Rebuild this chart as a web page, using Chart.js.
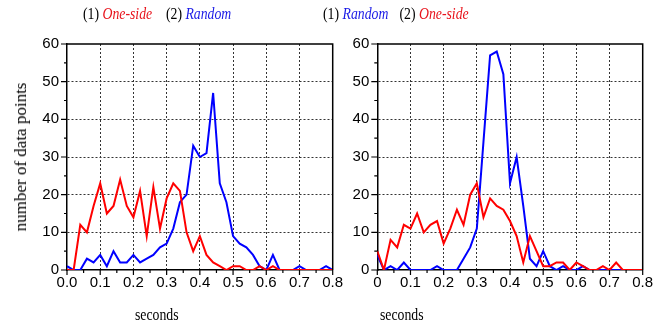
<!DOCTYPE html>
<html lang="en">
<head>
<meta charset="UTF-8">
<title>One-side vs Random</title>
<style>
  body { margin: 0; background: #fff; }
  #wrap { position: relative; width: 664px; height: 325px; overflow: hidden; }
  canvas { position: absolute; top: 0; }
  #leftChart { left: 0; }
  #rightChart { left: 340px; }
  .txt {
    position: absolute;
    font-family: "Liberation Serif", "Times New Roman", serif;
    font-size: 16px;
    line-height: 16px;
    white-space: nowrap;
    color: #000;
    transform: scaleX(0.86);
    transform-origin: left top;
  }
  .red { color: #e8141c; font-style: italic; }
  .blue { color: #1a1ae6; font-style: italic; }
  .gap { margin-left: 16px; }
  #ylabel {
    position: absolute;
    left: 21px; top: 157px;
    font-family: "Liberation Serif", "Times New Roman", serif;
    font-size: 17px;
    line-height: 18px;
    white-space: nowrap;
    color: #000;
    transform: translate(-50%, -50%) rotate(-90deg);
  }
</style>
</head>
<body>
<div id="wrap">
  <canvas id="leftChart" width="352" height="325"></canvas>
  <canvas id="rightChart" width="324" height="325"></canvas>

  <div class="txt" style="left:83px; top:6px">(1) <span class="red">One-side</span><span class="gap">(2) </span><span class="blue">Random</span></div>
  <div class="txt" style="left:323px; top:6px">(1) <span class="blue">Random</span><span class="gap" style="margin-left:13px">(2) </span><span class="red">One-side</span></div>
  <div class="txt" style="left:135px; top:307px">seconds</div>
  <div class="txt" style="left:380px; top:307px">seconds</div>
  <div id="ylabel">number of data points</div>
</div>

<script src="https://cdn.jsdelivr.net/npm/chart.js"></script>
<script>
  // bins (seconds)
  const seconds = [0.00, 0.02, 0.04, 0.06, 0.08, 0.10, 0.12, 0.14, 0.16, 0.18,
                   0.20, 0.22, 0.24, 0.26, 0.28, 0.30, 0.32, 0.34, 0.36, 0.38,
                   0.40, 0.42, 0.44, 0.46, 0.48, 0.50, 0.52, 0.54, 0.56, 0.58,
                   0.60, 0.62, 0.64, 0.66, 0.68, 0.70, 0.72, 0.74, 0.76, 0.78, 0.80];

  // left panel: (1) One-side, (2) Random
  const leftOneSide = [0, 0, 12, 10, 17, 23, 15, 17, 24, 17,
                       14, 21, 9, 22, 11, 19, 23, 21, 10, 5,
                       9, 4, 2, 1, 0, 1, 1, 0, 0, 1,
                       0, 1, 0, 0, 0, 0, 0, 0, 0, 0, 0];
  const leftRandom = [1, 0, 0, 3, 2, 4, 1, 5, 2, 2,
                      4, 2, 3, 4, 6, 7, 11, 18, 20, 33,
                      30, 31, 47, 23, 18, 9, 7, 6, 4, 1,
                      0, 4, 0, 0, 0, 1, 0, 0, 0, 1, 0];

  // right panel: (1) Random, (2) One-side
  const rightOneSide = [5, 0, 8, 6, 12, 11, 15, 10, 12, 13,
                        7, 11, 16, 12, 20, 23, 14, 19, 17, 16,
                        13, 9, 2, 9, 5, 1, 1, 2, 2, 0,
                        2, 1, 0, 0, 1, 0, 2, 0, 0, 0, 0];
  const rightRandom = [4, 0, 1, 0, 2, 0, 0, 0, 0, 1,
                       0, 0, 0, 3, 6, 11, 34, 57, 58, 52,
                       23, 30, 17, 3, 1, 5, 1, 0, 1, 0,
                       0, 1, 0, 0, 0, 0, 0, 0, 0, 0, 0];

  const xTicks = [0, 0.1, 0.2, 0.3, 0.4, 0.5, 0.6, 0.7, 0.8];
  const leftXLabels = ['0.0', '0.1', '0.2', '0.3', '0.4', '0.5', '0.6', '0.7', '0.8'];
  const rightXLabels = ['0', '0.1', '0.2', '0.3', '0.4', '0.5', '0.6', '0.7', '0.8'];
  const yTicks = [0, 10, 20, 30, 40, 50, 60];

  const RED = '#ff0000';
  const BLUE = '#0000ff';
  const TICK_FONT = '15px "Liberation Sans", Arial, sans-serif';

  function points(values) {
    return values.map((v, i) => ({ x: seconds[i], y: v }));
  }

  // frame (top/right), tick marks (major + minor, outward) and x tick labels
  const framePlugin = {
    id: 'frame',
    afterDraw(chart) {
      const { ctx, chartArea: a, scales } = chart;
      const labels = chart.$xLabels;
      ctx.save();
      ctx.strokeStyle = '#000';
      ctx.lineWidth = 1.5;
      ctx.beginPath();
      ctx.moveTo(a.left, a.top);
      ctx.lineTo(a.right, a.top);
      ctx.lineTo(a.right, a.bottom);
      ctx.stroke();

      ctx.lineWidth = 1.2;
      ctx.beginPath();
      for (let i = 0; i <= 12; i++) {
        const y = scales.y.getPixelForValue(i * 5);
        const len = i % 2 === 0 ? 6 : 3;
        ctx.moveTo(a.left - len, y);
        ctx.lineTo(a.left, y);
      }
      for (let i = 0; i <= 16; i++) {
        const x = scales.x.getPixelForValue(i * 0.05);
        const len = i % 2 === 0 ? 5 : 3;
        ctx.moveTo(x, a.bottom);
        ctx.lineTo(x, a.bottom + len);
      }
      ctx.stroke();

      ctx.fillStyle = '#000';
      ctx.font = TICK_FONT;
      ctx.textAlign = 'center';
      ctx.textBaseline = 'alphabetic';
      xTicks.forEach((v, i) => {
        ctx.fillText(labels[i], scales.x.getPixelForValue(v), a.bottom + 17);
      });
      ctx.restore();
    }
  };

  function makeChart(id, datasets, xLabels, yWidth, padRight) {
    const gridColor = (ctx, max) => {
      const v = ctx.tick ? ctx.tick.value : 0;
      return (v > 0.001 && v < max - 0.001) ? '#333' : 'rgba(0,0,0,0)';
    };
    return new Chart(document.getElementById(id), {
      type: 'line',
      data: { datasets: datasets },
      options: {
        responsive: false,
        animation: false,
        layout: { padding: { left: 0, top: 44, right: padRight, bottom: 0 } },
        plugins: {
          legend: { display: false },
          tooltip: { enabled: false }
        },
        elements: { point: { radius: 0 }, line: { borderWidth: 2, tension: 0 } },
        scales: {
          x: {
            type: 'linear',
            min: 0, max: 0.8,
            afterBuildTicks: s => { s.ticks = xTicks.map(v => ({ value: v })); },
            afterFit: s => { s.height = 55; s.paddingLeft = 0; s.paddingRight = 0; },
            ticks: { display: false },
            grid: {
              drawTicks: false,
              lineWidth: 1,
              color: c => gridColor(c, 0.8)
            },
            border: { color: '#000', width: 1.5, dash: [2, 2] }
          },
          y: {
            min: 0, max: 60,
            afterBuildTicks: s => { s.ticks = yTicks.map(v => ({ value: v })); },
            afterFit: s => { s.width = yWidth; s.paddingTop = 0; s.paddingBottom = 0; },
            ticks: {
              padding: 8,
              color: '#000',
              font: { family: 'Liberation Sans', size: 15 }
            },
            grid: {
              drawTicks: false,
              lineWidth: 1,
              color: c => gridColor(c, 60)
            },
            border: { color: '#000', width: 1.5, dash: [2, 2] }
          }
        }
      },
      plugins: [{ id: 'labelsHolder', beforeInit: c => { c.$xLabels = xLabels; } }, framePlugin]
    });
  }

  makeChart('leftChart', [
    { label: 'One-side', data: points(leftOneSide), borderColor: RED },
    { label: 'Random', data: points(leftRandom), borderColor: BLUE }
  ], leftXLabels, 67, 19.3);

  makeChart('rightChart', [
    { label: 'One-side', data: points(rightOneSide), borderColor: RED },
    { label: 'Random', data: points(rightRandom), borderColor: BLUE }
  ], rightXLabels, 37.3, 21.3);
</script>
</body>
</html>
